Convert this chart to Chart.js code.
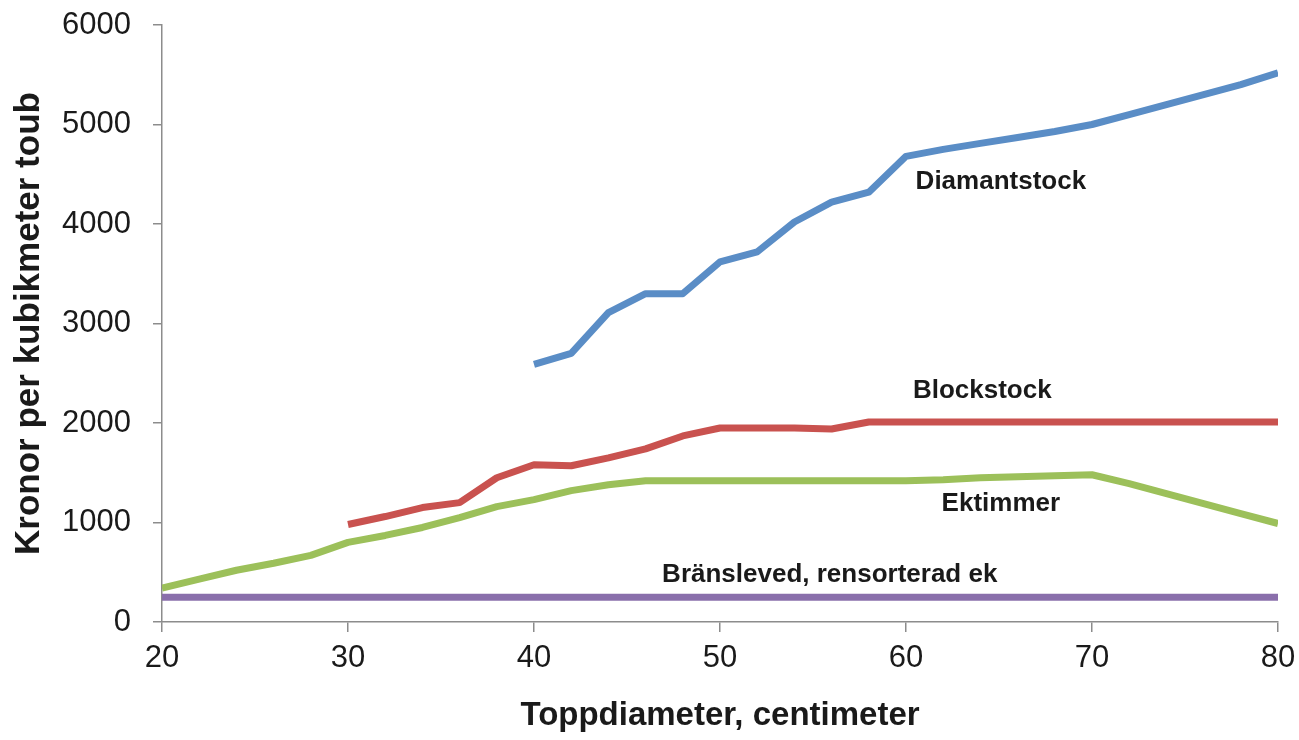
<!DOCTYPE html>
<html lang="sv">
<head>
<meta charset="UTF-8">
<title>Kronor per kubikmeter toub</title>
<script src="https://cdn.jsdelivr.net/npm/chart.js"></script>
<style>
  html, body { margin: 0; padding: 0; background: #fff; }
  #wrap { width: 1299px; height: 740px; }
</style>
</head>
<body>
<div id="wrap"><canvas id="chart" width="1299" height="740"></canvas></div>
<script>
// Toppdiameter (cm) och priser (kr/m3 toub), avläst ur originalet
const diamX = [40, 42, 44, 46, 48, 50, 52, 54, 56, 58, 60, 62, 64, 66, 68, 70, 72, 74, 76, 78, 80];
const diamY = [2590, 2700, 3110, 3300, 3300, 3620, 3720, 4020, 4220, 4320, 4680, 4750, 4810, 4870, 4930, 5000, 5100, 5200, 5300, 5400, 5520];

const blockX = [30, 32, 34, 36, 38, 40, 42, 44, 46, 48, 50, 52, 54, 56, 58, 60, 70, 80];
const blockY = [980, 1060, 1150, 1200, 1450, 1580, 1570, 1650, 1740, 1870, 1950, 1950, 1950, 1940, 2010, 2010, 2010, 2010];

const ekX = [20, 22, 24, 26, 28, 30, 32, 34, 36, 38, 40, 42, 44, 46, 48, 50, 60, 62, 64, 66, 68, 70, 72, 74, 76, 78, 80];
const ekY = [340, 430, 520, 590, 670, 800, 870, 950, 1050, 1160, 1230, 1320, 1380, 1420, 1420, 1420, 1420, 1430, 1450, 1460, 1470, 1480, 1390, 1290, 1190, 1090, 990];

const bransleX = [20, 80];
const bransleY = [250, 250];

const seriesNames = ['Diamantstock', 'Blockstock', 'Ektimmer', 'Bränsleved, rensorterad ek'];
// där etiketterna står, i dataenheter
const labelX = [65.1, 64.1, 65.1, 55.9];
const labelY = [4420, 2320, 1190, 470];

const yTicks = [0, 1000, 2000, 3000, 4000, 5000, 6000];
const xTicks = [20, 30, 40, 50, 60, 70, 80];

function pts(xs, ys) {
    return xs.map((x, i) => ({ x: x, y: ys[i] }));
}

const lineLabels = {
    id: 'lineLabels',
    afterDatasetsDraw(chart) {
        const ctx = chart.ctx;
        const xs = chart.scales.x, ys = chart.scales.y;
        ctx.save();
        ctx.font = 'bold 26px "Liberation Sans", Arial, sans-serif';
        ctx.fillStyle = '#1a1a1a';
        ctx.textAlign = 'center';
        ctx.textBaseline = 'middle';
        seriesNames.forEach((name, i) => {
            ctx.fillText(name, xs.getPixelForValue(labelX[i]), ys.getPixelForValue(labelY[i]));
        });
        ctx.restore();
    }
};

const common = { borderWidth: 7, pointRadius: 0, fill: false, tension: 0, borderJoinStyle: 'round' };

new Chart(document.getElementById('chart').getContext('2d'), {
    type: 'line',
    data: {
        datasets: [
            Object.assign({ label: seriesNames[0], data: pts(diamX, diamY), borderColor: '#5a8dc6' }, common),
            Object.assign({ label: seriesNames[1], data: pts(blockX, blockY), borderColor: '#c9524f' }, common),
            Object.assign({ label: seriesNames[2], data: pts(ekX, ekY), borderColor: '#9cc05a' }, common),
            Object.assign({ label: seriesNames[3], data: pts(bransleX, bransleY), borderColor: '#8a6fab' }, common)
        ]
    },
    options: {
        responsive: false,
        animation: false,
        layout: { padding: { top: 25, right: 21, left: 0, bottom: 0 } },
        plugins: { legend: { display: false }, tooltip: { enabled: false } },
        scales: {
            x: {
                type: 'linear',
                min: 20, max: 80,
                afterBuildTicks: axis => { axis.ticks = xTicks.map(v => ({ value: v })); },
                afterFit: axis => { axis.height = 118; axis.paddingLeft = 0; axis.paddingRight = 0; },
                border: { color: '#8c8c8c', width: 1.5 },
                grid: { drawOnChartArea: false, color: '#8c8c8c', tickLength: 10, lineWidth: 1.5 },
                ticks: { color: '#1a1a1a', font: { family: '"Liberation Sans", sans-serif', size: 31 }, padding: 8, maxRotation: 0,
                         callback: v => String(v) },
                title: { display: true, text: 'Toppdiameter, centimeter', color: '#1a1a1a',
                         font: { family: '"Liberation Sans", sans-serif', size: 33, weight: 'bold' }, padding: { top: 6 } }
            },
            y: {
                min: 0, max: 6000,
                afterBuildTicks: axis => { axis.ticks = yTicks.map(v => ({ value: v })); },
                afterFit: axis => { axis.width = 162; axis.paddingTop = 0; axis.paddingBottom = 0; },
                border: { color: '#8c8c8c', width: 1.5 },
                grid: { drawOnChartArea: false, color: '#8c8c8c', tickLength: 9, lineWidth: 1.5 },
                ticks: { color: '#1a1a1a', font: { family: '"Liberation Sans", sans-serif', size: 31 }, padding: 22,
                         callback: v => String(v) },
                title: { display: true, text: 'Kronor per kubikmeter toub', color: '#1a1a1a',
                         font: { family: '"Liberation Sans", sans-serif', size: 35, weight: 'bold' }, padding: { top: 8, bottom: 0 } }
            }
        }
    },
    plugins: [lineLabels]
});
</script>
</body>
</html>
